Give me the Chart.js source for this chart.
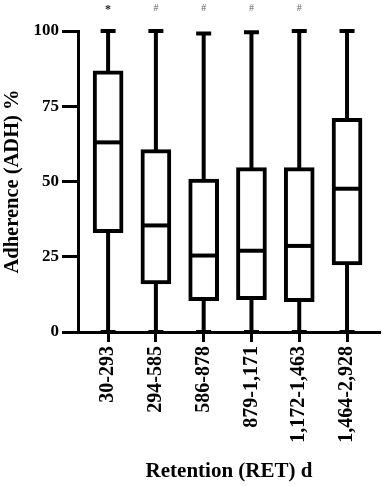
<!DOCTYPE html>
<html>
<head>
<meta charset="utf-8">
<script src="https://cdn.jsdelivr.net/npm/chart.js@4/dist/chart.umd.min.js"></script>
<style>
  body { margin: 0; background: #fff; }
  #wrap { width: 383px; height: 486px; position: relative; }
</style>
</head>
<body>
<div id="wrap"><canvas id="boxChart"></canvas></div>
<script>
const categories = ['30-293', '294-585', '586-878', '879-1,171', '1,172-1,463', '1,464-2,928'];
const mins = [0, 0, 0, 0, 0, 0];
const q1 = [33, 16, 10.4, 10.7, 10.1, 22.3];
const medians = [63, 35.4, 25.4, 27, 28.6, 47.6];
const q3 = [86.8, 60.6, 50.8, 54.6, 54.6, 71];
const maxs = [100, 100, 99.2, 99.6, 100, 100];
const markers = ['*', '#', '#', '#', '#', ''];
const yTicks = [0, 25, 50, 75, 100];

Chart.defaults.font.family = '"Liberation Serif", "Times New Roman", serif';
Chart.defaults.color = '#000';

// whiskers under the boxes, medians and markers on top
const boxParts = {
  id: 'boxParts',
  beforeDatasetsDraw(chart) {
    const { ctx, scales: { x, y } } = chart;
    ctx.save();
    ctx.strokeStyle = '#000';
    ctx.lineWidth = 4;
    categories.forEach((c, i) => {
      const px = x.getPixelForValue(i + 1);
      ctx.beginPath();
      ctx.moveTo(px, y.getPixelForValue(mins[i]));
      ctx.lineTo(px, y.getPixelForValue(maxs[i]));
      ctx.moveTo(px - 7.5, y.getPixelForValue(maxs[i]));
      ctx.lineTo(px + 7.5, y.getPixelForValue(maxs[i]));
      ctx.moveTo(px - 7.5, y.getPixelForValue(mins[i]));
      ctx.lineTo(px + 7.5, y.getPixelForValue(mins[i]));
      ctx.stroke();
    });
    ctx.restore();
  },
  afterDatasetsDraw(chart) {
    const { ctx, chartArea, scales: { x, y } } = chart;
    ctx.save();
    ctx.strokeStyle = '#000';
    ctx.lineWidth = 4;
    categories.forEach((c, i) => {
      const px = x.getPixelForValue(i + 1);
      const py = y.getPixelForValue(medians[i]);
      ctx.beginPath();
      ctx.moveTo(px - 14, py);
      ctx.lineTo(px + 14, py);
      ctx.stroke();
    });
    ctx.textAlign = 'center';
    ctx.textBaseline = 'middle';
    markers.forEach((m, i) => {
      if (!m) return;
      const px = x.getPixelForValue(i + 1);
      ctx.fillStyle = m === '*' ? '#222' : '#666';
      ctx.font = m === '*' ? 'bold 12px "Liberation Serif"' : '10px "Liberation Serif"';
      ctx.fillText(m, px, chartArea.top - (m === '*' ? 21 : 23));
    });
    ctx.restore();
  }
};

new Chart(document.getElementById('boxChart'), {
  type: 'bar',
  data: {
    datasets: [{
      data: categories.map((c, i) => ({ x: i + 1, y: [q1[i], q3[i]] })),
      backgroundColor: '#fff',
      borderColor: '#000',
      borderWidth: 4,
      borderSkipped: false,
      barThickness: 30
    }]
  },
  options: {
    responsive: true,
    maintainAspectRatio: false,
    animation: false,
    layout: { padding: { top: 31, right: 3, bottom: 0, left: 0 } },
    plugins: { legend: { display: false }, tooltip: { enabled: false } },
    scales: {
      x: {
        type: 'linear',
        offset: false,
        min: 0.37,
        max: 6.69,
        afterFit(scale) { scale.height = 154; },
        afterBuildTicks(scale) { scale.ticks = categories.map((c, i) => ({ value: i + 1 })); },
        border: { display: true, color: '#000', width: 3 },
        grid: { offset: false, drawOnChartArea: false, drawTicks: true, tickLength: 10, tickWidth: 3, tickColor: '#000' },
        ticks: {
          autoSkip: false,
          minRotation: 90,
          maxRotation: 90,
          padding: 4,
          font: { size: 20, weight: 'bold' },
          callback: (v) => categories[v - 1]
        },
        title: {
          display: true,
          text: 'Retention (RET) d',
          font: { size: 21, weight: 'bold' },
          padding: { top: 0, bottom: 2 }
        }
      },
      y: {
        min: 0,
        max: 100,
        afterFit(scale) { scale.width = 78; },
        afterBuildTicks(scale) { scale.ticks = yTicks.map(v => ({ value: v })); },
        border: { display: true, color: '#000', width: 3 },
        grid: { drawOnChartArea: false, drawTicks: true, tickLength: 16, tickWidth: 3, tickColor: '#000' },
        ticks: { padding: 3, font: { size: 17, weight: 'bold' } },
        title: {
          display: true,
          text: 'Adherence (ADH) %',
          font: { size: 20.5, weight: 'bold' },
          padding: { top: 0, bottom: 0 }
        }
      }
    }
  },
  plugins: [boxParts]
});
</script>
</body>
</html>
